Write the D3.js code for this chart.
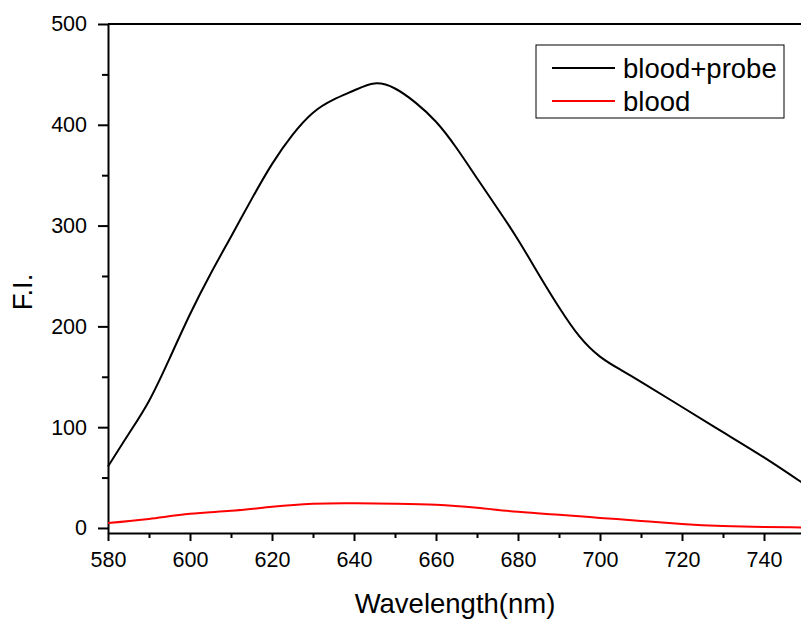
<!DOCTYPE html>
<html>
<head>
<meta charset="utf-8">
<script src="https://cdn.jsdelivr.net/npm/d3@7"></script>
<style>
  body { margin: 0; background: #fff; }
  svg { display: block; font-family: Arial, "Liberation Sans", sans-serif; }
</style>
</head>
<body>
<div id="chart"></div>
<script>
// emission spectra: blood with / without probe

const wavelengths = [580, 585, 590, 595, 600, 605, 610, 615, 620, 625, 630, 635, 640, 645, 650, 655,
  660, 665, 670, 675, 680, 685, 690, 695, 700, 705, 710, 720, 730, 740, 750];
const probeValues = [61, 93, 126, 168, 212, 252, 289, 326, 361, 390, 412, 425, 434, 441, 436, 422,
  403, 377, 347, 317, 286, 252, 219, 190, 170, 157, 145, 120, 95, 70, 43];

const bloodWavelengths = [580, 590, 600, 610, 620, 630, 640, 650, 660, 670, 680, 690, 700, 710, 720, 730, 740, 750];
const bloodValues = [5, 9, 14, 17, 21, 24, 24.5, 24, 23, 20, 16, 13, 10, 7, 4, 2, 1, 0.5];

const xMajorTicks = [580, 600, 620, 640, 660, 680, 700, 720, 740];
const xMinorTicks = [590, 610, 630, 650, 670, 690, 710, 730, 750];
const yMajorTicks = [0, 100, 200, 300, 400, 500];
const yMinorTicks = [50, 150, 250, 350, 450];

const seriesNames = ['blood+probe', 'blood'];
const seriesColors = ['#000000', '#ff0000'];

const width = 801, height = 619;
const margin = { top: 24, left: 108, bottom: 533, right: 805 };

const svg = d3.select('#chart').append('svg')
  .attr('width', width)
  .attr('height', height);

const x = d3.scaleLinear().domain([580, 750]).range([margin.left, margin.right]);
const y = d3.scaleLinear().domain([-5, 500]).range([margin.bottom, margin.top]);

// axes
svg.append('g')
  .attr('transform', `translate(0,${margin.bottom})`)
  .call(d3.axisBottom(x).tickValues(xMajorTicks).tickSize(8).tickSizeOuter(0).tickPadding(11));

svg.append('g')
  .attr('transform', `translate(0,${margin.bottom})`)
  .call(d3.axisBottom(x).tickValues(xMinorTicks).tickSize(5).tickSizeOuter(0).tickFormat(''))
  .select('.domain').remove();

svg.append('g')
  .attr('transform', `translate(${margin.left},0)`)
  .call(d3.axisLeft(y).tickValues(yMajorTicks).tickSize(10).tickSizeOuter(0).tickPadding(11));

svg.append('g')
  .attr('transform', `translate(${margin.left},0)`)
  .call(d3.axisLeft(y).tickValues(yMinorTicks).tickSize(6).tickSizeOuter(0).tickFormat(''))
  .select('.domain').remove();

svg.selectAll('.domain, .tick line')
  .attr('stroke', '#000')
  .attr('stroke-width', 2);

svg.selectAll('.tick text')
  .attr('fill', '#000')
  .style('font-size', '21.5px');

// top frame line
svg.append('line')
  .attr('x1', margin.left).attr('x2', margin.right)
  .attr('y1', margin.top).attr('y2', margin.top)
  .attr('stroke', '#000')
  .attr('stroke-width', 2);

// curves
const line = d3.line()
  .x(d => x(d[0]))
  .y(d => y(d[1]))
  .curve(d3.curveNatural);

svg.append('path')
  .datum(d3.zip(bloodWavelengths, bloodValues))
  .attr('d', line)
  .attr('fill', 'none')
  .attr('stroke', seriesColors[1])
  .attr('stroke-width', 2);

svg.append('path')
  .datum(d3.zip(wavelengths, probeValues))
  .attr('d', line)
  .attr('fill', 'none')
  .attr('stroke', seriesColors[0])
  .attr('stroke-width', 2);

// axis titles
svg.append('text')
  .attr('x', 455)
  .attr('y', 613)
  .attr('text-anchor', 'middle')
  .style('font-size', '27.5px')
  .text('Wavelength(nm)');

svg.append('text')
  .attr('transform', 'translate(32,292) rotate(-90)')
  .attr('text-anchor', 'middle')
  .style('font-size', '27.5px')
  .text('F.I.');

// legend
const legend = svg.append('g').attr('transform', 'translate(536,45)');

legend.append('rect')
  .attr('width', 248)
  .attr('height', 73)
  .attr('fill', '#fff')
  .attr('stroke', '#000')
  .attr('stroke-width', 1);

seriesNames.forEach((name, i) => {
  const ly = 23 + i * 33;
  legend.append('line')
    .attr('x1', 16).attr('x2', 79)
    .attr('y1', ly).attr('y2', ly)
    .attr('stroke', seriesColors[i])
    .attr('stroke-width', 2);
  legend.append('text')
    .attr('x', 87)
    .attr('y', ly + 10)
    .style('font-size', '27.5px')
    .text(name);
});
</script>
</body>
</html>
